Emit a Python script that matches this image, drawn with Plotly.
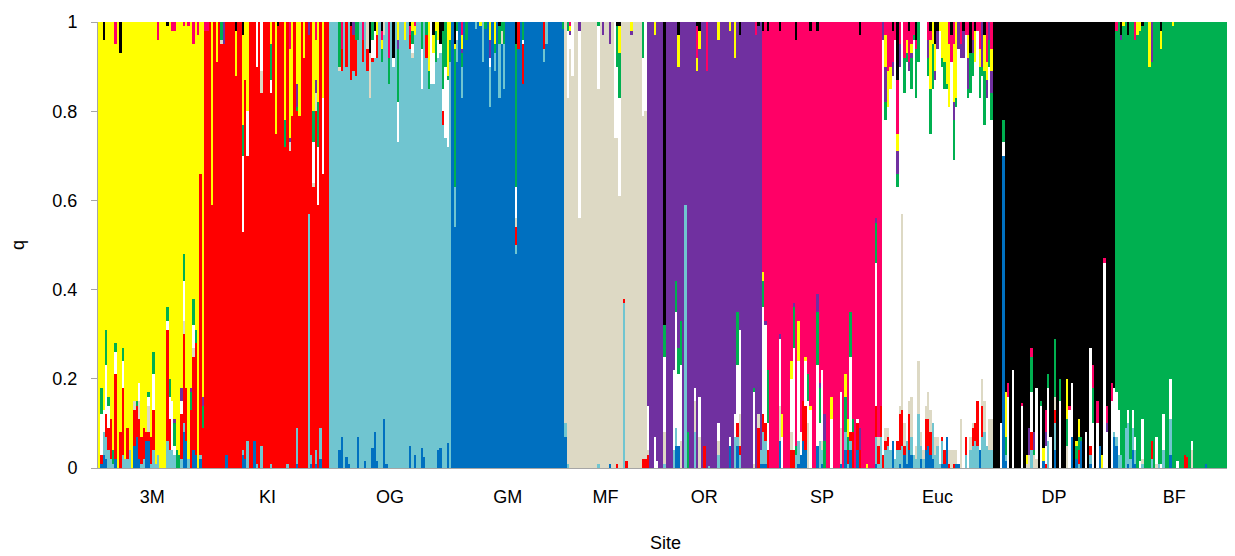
import re
import plotly.graph_objects as go

# Sites (populations) in plot order and their home cluster
sites = ["3M", "KI", "OG", "GM", "MF", "OR", "SP", "Euc", "DP", "BF"]
home = ["Y", "R", "L", "B", "E", "P", "K", "W", "D", "G"]

# Cluster codes, stacking order bottom -> top, and colours
clusters = ["B", "L", "R", "E", "W", "G", "P", "Y", "K", "D"]
cluster_colors = ["#0070C0", "#70C5D0", "#FF0000", "#DDD9C4", "#FFFFFF",
                  "#00B050", "#7030A0", "#FFFF00", "#FF0066", "#000000"]

# Per-individual admixture (percent of non-home clusters; remainder = home cluster)
q_3M = ["", "B1R2W9G6", "B3L5W5D4", "B2L5R5W11G8", "L4R5W5G2", "L2R9", "L1G3", "B2R19W5G2K5", "", "R8D7",
        "L3R15W6G3", "L2", "L2R7", "L4", "", "B5R8E2", "B7R7G1", "B2R9E4W4", "L1R6", "L2R7",
        "B6R2", "B6R2E6W2G1", "L1R6", "L4R9W8G5", "L1", "L3K4", "", "", "", "L6R25W2G3D1",
        "L4R7W5G4", "L4W11K2", "L3W2G5P1K2", "G4", "G3", "L2R10W3P3", "B8L2R20E3W9G6K1", "B6R12", "L2K1", "R13G4P1",
        "B4R21E2W5G6K5", "B3R25G3", "K3", "B2L1R63", "R9G5P2", "R98K2"]
q_KI = ["K2", "", "Y41", "", "Y9", "", "E1G4", "P5", "B3", "",
        "", "", "Y10D2", "", "", "B3L1W17G7Y20D3", "B2Y13", "L6W10Y20", "", "",
        "B6", "L1W10", "", "L5E5W11", "", "", "", "L1W3G8Y5", "", "Y25",
        "D1", "", "", "Y22G6", "L1", "E2P1Y20K6", "Y21", "", "B1L8G1P5Y14", "Y21",
        "", "Y8", "", "L57P3", "B1L2", "E1W9G7Y20", "B1L3E4P3Y9K4", "Y18G10W13", "B2L7", "W17Y17",
        "", ""]
q_OG = ["", "", "", "", "B4E1G10", "B7R5K6", "", "B2.5R10", "B1", "R12D1",
        "R8P3", "R8G4", "B7G4", "", "R5K4", "B1.5", "R5E6", "E10D7", "B4.5R1W4G4", "B8W6D2",
        "B1.5R5Y3", "", "G3Y2K2D2", "B11E3", "B1", "G6K8", "", "W2D8", "", "W9G12P2Y4",
        "", "", "Y4", "", "B5R3K2D1", "E1W2G3Y2", "B3Y2K1", "", "", "B4.5W9G6",
        "B2.5", "R5G3", "G4Y11", "W14", "W7Y4D3", "G7Y2", "B4W4Y4", "B4.5W2D5", "R3W5G13D2", "G10W16",
        "B5.5W15G1Y12", "G5Y4"]
q_GM = ["", "L9G31Y1D5", "L5W2G2", "", "L7G3P1Y3K3", "", "G4", "", "", "",
        "L1.5", "", "Y1", "L9", "G1.5", "", "L9W2P4Y4", "", "L4G2Y5", "",
        "L12G4D1", "E3G2", "L10G5", "", "", "", "", "L2R4E2W7G32D5", "R6", "",
        "R9W1G4", "", "", "", "", "", "", "", "", "L3R6",
        "L5", "", "", "", "", "", "", "G1.5"]
q_MF = ["B7L3", "L1W15G2", "W3P1Y1K1", "W12", "", "", "P2W42", "", "", "",
        "", "", "", "", "L1W14G1", "", "P3", "", "", "B1P5",
        "", "W26", "R1W16G9D1", "W22G10Y6D1", "", "R1L37", "R1.5", "", "P1Y2", "",
        "", "", "", "R2W13G8", "R2W20"]
q_OR = ["R3E1W10", "", "", "W7Y3", "W1.5", "", "", "L1E7W17G7D68", "", "",
        "", "L4W18", "B5L4W26G7", "B5W16G6Y7D3", "E6W17G10", "", "L59", "G8", "", "",
        "L8E7W3", "Y3K7D1", "E7W9Y4D2", "", "R5", "K11", "L0.5", "", "", "",
        "L3E3W4Y4", "", "", "", "", "B5W2Y2", "", "L7W5Y8", "B5L2R3W13G12", "L3R2E7W19D3",
        "", "", "", "", "", "E1W16G1", "K3", "R9E3D1", "B1L3"]
q_SP = ["B1L7R4W24G6Y2D2", "B1L5R4W22P1", "R4W6G12D2", "", "", "", "", "B6E8W15P1D2", "W7Y5", "",
        "", "", "R4E4W12Y4", "R4W23G9P1", "L3G2D4", "B1L5W18Y9", "B3W5", "B6R9", "B4R10W10Y1", "E10W5G6",
        "W13Y1D2", "", "", "B5W18G12P4D2", "L6W4G8P1", "B1L3E2W16", "G6P6", "", "", "W11Y5",
        "", "", "", "B1E8W8", "", "B4L4G8Y5", "L1R3G3Y4", "B4L2R2W17G10", "R8G3", "",
        "B4R6W1", "R4P5D3", "", "", "Y1", "", "", "", "B1L6R7W32G9P1", "R4E2L1",
        "L7R7"]
q_Euc = ["R3P4", "L4R2E3G4P8Y7K3", "L5R2E2Y8K11", "L4Y5K10", "B6P3K7D2", "L2K4", "L4R2G3P5Y4K12D13",
         "B1L3R8E2P5K5", "L5R8E44", "B3R2E5G8K8", "B1L5G2Y3K4", "B4R8E3P2K7D2", "B3L4E9G7P1Y2K5",
         "L3G1K3", "L2E3G11K2D4", "L12E12G9", "B2L3E3", "L2E2", "B4R7E3", "B5R6E6G4P4K4",
         "B3R5E5G10Y11K2D2", "B2L8G10Y5", "L3E4P2Y6D5", "L5E2P4D2", "L1Y2", "B1L5R1G2Y8",
         "B1R3G6Y9", "B7G1Y14", "R1E3Y14K5", "E4K6D3", "R1E3G9P4Y13K5", "B1E3G2Y17", "B1P6",
         "E11P3K5", "P6D2", "L3R4K3", "G2P7Y5K3", "L4E3G9D7", "L5R4E1G5P3K4", "L6R4Y7D2",
         "L5R10K2", "B4G7Y4K6", "L7R7E6G2P10", "L8E7G12Y8D3", "L5P4Y4K9", "L4E7G6P4",
         "L4E7G6P5Y5K6"]
q_DP = ["", "", "", "W10", "B70W3G5", "B1.5L1.5G4Y10", "W16K3", "", "W22", "",
        "", "", "W14K0.5", "", "E1Y2", "E3P6", "L4R4W9G8K2", "E3G1P4", "E2W16", "",
        "W14G1", "B1.5Y3", "R1W4P3K5", "L6W12G3", "W7", "", "B4L6R3E3G13", "", "W15G5", "",
        "", "E5G6Y9", "W13K1", "B7W12", "", "B2G3Y1", "L1R3G3Y4", "B6G1", "", "W8",
        "", "B1L2R2W22", "W10G8K5", "", "W10K5", "B5", "Y3", "W46K1", "W8P2K4", "",
        "W15K4", "B7L1W10"]
q_BF = ["B5L2W10K2", "L3W10", "L3P1D3", "Y1", "L9", "B1L9W3D3", "L2", "B4L5W4", "B1L3W3K4", "Y3",
        "W1.5Y2", "L1E1W9D1", "", "", "Y10", "R4L2P9", "", "E1W6", "L1", "W1Y4D2",
        "L4W8", "", "", "B3L8W9", "Y1", "", "W1.5", "", "", "R3",
        "R2.5", "", "E4W2", "", "", "", "", "", "B1", "",
        "", "", "", "", "", "", "", "", "", "B5W1Y38"]

site_data = [q_3M, q_KI, q_OG, q_GM, q_MF, q_OR, q_SP, q_Euc, q_DP, q_BF]

# ---- build per-cluster q arrays ----
q = {c: [] for c in clusters}
tick_pos = []
start = 0
for s_codes, h in zip(site_data, home):
    for code in s_codes:
        parts = {k: float(v) for k, v in re.findall(r"([A-Z])([\d.]+)", code)}
        rest = max(0.0, 100.0 - sum(parts.values()))
        parts[h] = parts.get(h, 0.0) + rest
        for c in clusters:
            q[c].append(parts.get(c, 0.0) / 100.0)
    tick_pos.append(start + (len(s_codes) - 1) / 2)
    start += len(s_codes)
n_ind = start
xs = list(range(n_ind))

fig = go.Figure()
for c, col in zip(clusters, cluster_colors):
    fig.add_trace(go.Bar(x=xs, y=q[c], marker=dict(color=col, line=dict(width=0)),
                         name=c, showlegend=False, hoverinfo="skip"))

font = dict(family="Liberation Sans, Arial, sans-serif", size=18, color="#000000")
fig.update_layout(
    barmode="stack", bargap=0, width=1227, height=548,
    margin=dict(l=90, r=2, t=14, b=88),
    plot_bgcolor="white", paper_bgcolor="white", font=font,
)
fig.update_xaxes(range=[-0.5, n_ind - 0.5], tickmode="array", tickvals=tick_pos, ticktext=sites,
                 ticks="outside", ticklen=12, tickcolor="rgba(0,0,0,0)",
                 showline=True, linecolor="#A6A6A6", linewidth=1, showgrid=False, zeroline=False,
                 title=dict(text="Site", font=font, standoff=30))
fig.update_yaxes(range=[0, 1], tickmode="array", tickvals=[0, 0.2, 0.4, 0.6, 0.8, 1],
                 ticktext=["0", "0.2", "0.4", "0.6", "0.8", "1"],
                 ticks="outside", ticklen=6, tickcolor="#A6A6A6", ticklabelstandoff=10,
                 showline=True, linecolor="#A6A6A6", linewidth=1, showgrid=False, zeroline=False,
                 title=dict(text="q", font=font, standoff=28))

fig.write_html("out.html")
